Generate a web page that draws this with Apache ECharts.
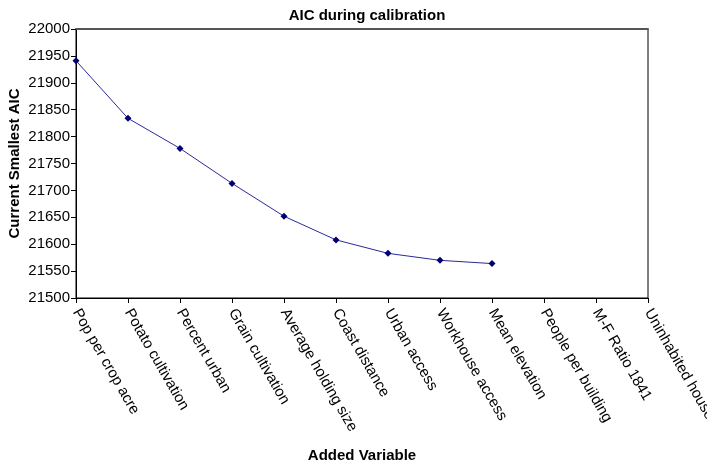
<!DOCTYPE html>
<html>
<head>
<meta charset="utf-8">
<script src="https://cdn.jsdelivr.net/npm/echarts@6/dist/echarts.min.js"></script>
<style>html,body{margin:0;padding:0;background:#fff}#c{width:707px;height:464px}</style>
</head>
<body>
<div id="c"></div>
<script>
const categories = ["Pop per crop acre","Potato cultivation","Percent urban","Grain cultivation","Average holding size","Coast distance","Urban access","Workhouse access","Mean elevation","People per building","M-F Ratio 1841","Uninhabited houses"];
const aicValues = [21941, 21834, 21778, 21713, 21652, 21608, 21583, 21570, 21564, null, null, null];
const yTicks = {min: 21500, max: 22000, interval: 50};

const chart = echarts.init(document.getElementById('c'));
const font = 'Liberation Sans, Arial, sans-serif';
chart.setOption({
  animation: false,
  backgroundColor: '#fff',
  title: {
    text: 'AIC during calibration',
    left: 362, top: 3, textAlign: 'center',
    textStyle: {fontFamily: font, fontSize: 15, fontWeight: 'bold', color: '#000'}
  },
  grid: {left: 76, right: 59, top: 29, bottom: 166, containLabel: false, outerBoundsMode: 'none', show: true, borderColor: '#000', borderWidth: 1, backgroundColor: '#fff'},
  xAxis: [{
    type: 'category', data: categories, boundaryGap: false,
    name: 'Added Variable', nameLocation: 'middle', nameGap: 150, nameMoveOverlap: false,
    nameTextStyle: {fontFamily: font, fontSize: 15, fontWeight: 'bold', color: '#000'},
    axisLine: {lineStyle: {color: '#000', width: 1}},
    axisTick: {show: true, length: 5, lineStyle: {color: '#000'}, alignWithLabel: true},
    axisLabel: {rotate: -60, interval: 0, fontFamily: font, fontSize: 15, color: '#000', margin: 12},
    splitLine: {show: false}
  }, {
    type: 'category', data: categories, boundaryGap: false, position: 'top',
    axisLine: {show: true, lineStyle: {color: '#555', width: 2}},
    axisTick: {show: false}, axisLabel: {show: false}, splitLine: {show: false}
  }],
  yAxis: {
    type: 'value', min: yTicks.min, max: yTicks.max, interval: yTicks.interval,
    name: 'Current Smallest AIC', nameLocation: 'middle', nameGap: 54, nameMoveOverlap: false,
    nameTextStyle: {fontFamily: font, fontSize: 15, fontWeight: 'bold', color: '#000'},
    axisLine: {show: true, lineStyle: {color: '#000', width: 1}},
    axisTick: {show: true, length: 5, lineStyle: {color: '#000'}},
    axisLabel: {fontFamily: font, fontSize: 15, color: '#000', margin: 6, formatter: v => String(v)},
    splitLine: {show: false}
  },
  series: [{
    type: 'line', data: aicValues, xAxisIndex: 0,
    symbol: 'diamond', symbolSize: 7, showSymbol: true,
    itemStyle: {color: '#000070'},
    lineStyle: {color: '#2a2a9a', width: 1}
  }]
});
</script>
</body>
</html>
